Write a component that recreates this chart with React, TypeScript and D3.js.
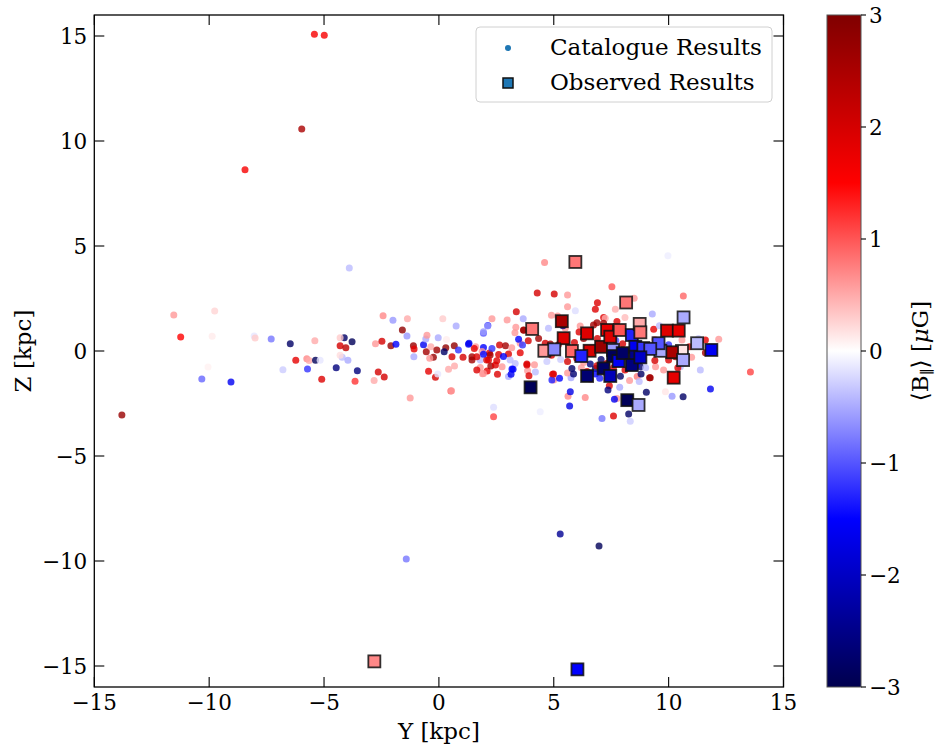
import React from "react";
import * as d3 from "d3";

// ---------- DATA ----------
// catalogue: [Y kpc, Z kpc, <B_par> muG]
const catalogueOutliers: [number, number, number][] = [
  [-13.8, -3.05, 2.7], [-5.42, 15.08, 1.6], [-4.99, 15.03, 1.6], [-5.97, 10.57, 2.5], [-8.44, 8.63, 1.6],
  [-1.42, -9.91, -0.8], [5.28, -8.72, -2.4], [6.97, -9.28, -2.9], [-3.9, 3.95, -0.4], [4.6, 4.21, 0.7],
  [9.97, 4.53, -0.1], [13.56, -1.0, 1.1], [11.82, -1.81, -1.6], [10.64, 2.62, 0.9],
];
const catalogueLeft: [number, number, number][] = [
  [-11.54, 1.72, 0.6], [-9.76, 1.9, 0.25], [-11.24, 0.67, 1.5], [-9.87, 0.7, 0.12], [-8.04, 0.71, -0.15],
  [-8.0, 0.62, 0.3], [-7.3, 0.57, -0.8], [-10.05, -0.76, 0.08], [-10.32, -1.33, -0.9], [-9.05, -1.48, -1.6],
  [-6.47, 0.35, -2.8], [-5.4, 0.49, 0.5], [-6.23, -0.44, 1.8], [-5.75, -0.37, 0.7], [-5.65, -0.45, 0.5],
  [-5.37, -0.44, -2.9], [-5.17, -0.44, -0.15], [-6.79, -0.89, -0.3], [-5.72, -0.86, -1.2], [-5.1, -1.35, 1.9],
  [-4.47, -0.8, -2.6], [-4.12, 0.63, -2.8], [-3.78, 0.44, -2.9], [-4.3, 0.63, 0.3], [-4.3, 0.25, 2.0],
  [-4.05, 0.16, 2.3], [-4.21, -0.3, -0.4], [-3.96, -0.44, -0.5], [-4.3, -0.2, 0.2], [-3.55, -0.94, -2.6],
  [-3.65, -1.44, 1.2], [-2.82, -1.41, 0.5], [-2.64, -1.0, 2.0], [-2.38, -1.24, 2.0], [-2.76, 0.35, 0.6],
  [-2.48, 0.46, 2.0], [-2.09, 0.25, 2.7], [-1.87, 0.32, -1.5], [-2.43, 1.68, 0.7], [-2.0, 1.46, -0.6],
  [-1.37, 1.53, 0.5], [-1.59, 1.0, 2.8], [-1.39, 0.71, -0.6], [-1.11, 0.25, 2.7], [-1.08, 0.1, 1.8],
  [-1.09, -0.27, -0.5], [-0.67, 0.3, -1.6], [-0.57, 0.57, -0.5], [-0.52, 0.75, 0.6], [-0.55, -0.03, 2.6],
  [-0.35, 0.2, 0.5], [-0.09, 0.05, 2.6], [-0.03, 0.63, -0.5], [0.17, 1.54, 0.3], [0.75, 1.19, -0.5],
  [-0.24, -0.3, 2.7], [-0.4, -0.35, 0.6], [-0.45, -0.97, 1.8], [-0.15, -1.25, 2.0], [-0.05, -1.1, -0.15],
  [0.42, -0.87, 0.5], [0.68, -0.72, 0.5], [0.52, -1.91, 1.0], [-1.25, -2.24, 0.6], [0.3, 0.16, 2.8],
  [0.23, -0.03, -2.8], [0.57, -0.27, 2.0], [0.67, 0.25, 2.8], [0.85, 0.05, -1.2], [1.05, -0.3, 2.0],
  [1.29, 0.32, -1.6], [1.44, -0.27, 2.6], [1.6, 0.2, 0.6], [1.8, -0.43, -0.4], [1.9, -1.08, 0.6],
  [2.1, -0.95, 1.8], [2.2, -0.1, 1.8], [1.94, 0.84, -1.0], [2.13, 1.22, -1.3],
];
const catalogueCentre: [number, number, number][] = [
  [4.28, 2.76, 2.0], [5.02, 2.72, 2.0], [3.37, 1.87, 2.0], [3.67, 1.53, -0.5], [2.31, 1.53, 0.6],
  [2.97, 1.48, 0.6], [2.12, 1.19, -0.6], [1.94, 0.92, -0.6], [0.33, 0.55, 0.1], [1.31, 0.37, -1.6],
  [1.54, 0.12, 1.8], [1.94, 0.17, -1.5], [2.31, 0.12, -1.2], [2.64, 0.29, 2.0], [2.9, 0.25, 2.6],
  [3.17, 0.16, 0.6], [3.54, 0.37, 0.6], [3.31, 0.87, 0.6], [3.7, 0.99, 2.6], [3.89, 0.49, 2.0],
  [3.47, 0.56, -1.5], [3.64, 0.29, -1.2], [4.34, 0.6, 2.6], [4.63, 0.37, 2.0], [4.85, 0.33, 2.7],
  [3.54, -0.08, 1.8], [3.03, -0.14, 1.9], [2.6, -0.17, 1.9], [2.23, -0.19, 2.6], [1.88, -0.02, 0.6],
  [1.65, -0.27, 1.9], [1.44, -0.43, 2.6], [2.16, -0.43, 1.9], [2.52, -0.46, 1.9], [2.81, -0.26, -1.5],
  [3.1, -0.43, -0.4], [3.32, -0.59, -0.4], [3.83, -0.62, 1.9], [4.16, -0.65, 0.6], [1.8, -0.78, 0.6],
  [2.26, -0.71, 2.6], [1.65, -0.91, 1.9], [1.94, -1.07, 0.6], [2.55, -1.11, 1.9], [3.03, -1.22, -0.5],
  [3.14, -1.11, -1.6], [3.23, -0.87, -1.5], [3.86, -0.94, 0.6], [3.92, -1.18, 1.9], [4.2, -1.0, -0.4],
  [4.95, -1.11, 1.9], [5.0, -1.38, 0.6], [4.92, -1.38, -1.3], [0.55, -1.89, 0.6], [2.38, -3.13, 1.1],
  [2.38, -2.68, -0.2],
];
const catalogueCore: [number, number, number][] = [
  [5.6, 2.67, 0.6], [7.53, 3.06, 1.0], [8.5, 2.51, 0.6], [6.9, 2.3, 1.9], [6.81, 1.99, 1.9],
  [7.68, 1.99, 0.5], [5.6, 2.11, 0.6], [5.94, 1.92, -0.2], [9.29, 1.76, -0.5], [5.17, 1.67, 0.6],
  [7.17, 1.59, 1.9], [7.24, 1.56, 0.5], [3.35, 1.13, 0.6], [3.68, 1.0, 2.6], [4.77, 1.08, -0.4],
  [5.5, 1.08, 0.6], [6.15, 1.19, 0.6], [6.88, 1.35, 2.6], [7.17, 1.32, 2.6], [7.75, 1.4, 1.9],
  [6.73, 1.24, 2.6], [9.35, 1.03, 1.8], [12.18, 0.56, 0.6], [11.6, 0.52, 1.8], [10.58, 0.52, 0.6],
  [10.7, -0.59, -0.4], [8.63, -1.22, 0.8], [9.17, -1.27, 2.6], [7.87, -1.73, -0.5], [9.03, -1.97, -2.8],
  [7.42, -1.65, 1.9], [7.36, -1.86, -2.6], [7.75, -2.26, 0.6], [7.64, -2.3, -1.6], [8.26, -3.0, -2.8],
  [8.33, -3.34, -0.3], [7.6, -3.1, 1.9], [7.1, -3.21, -0.8], [5.62, -2.15, 0.7], [6.37, -2.22, 0.7],
  [5.72, -1.94, -1.7], [5.69, -2.62, -1.7], [4.41, -2.89, -0.1], [5.25, -1.3, -1.5], [5.75, -1.27, -0.5],
  [5.6, -1.05, 0.6], [4.99, -1.1, 1.9], [5.79, -0.83, -2.8], [6.2, -0.8, 0.6], [6.59, -0.62, -2.6],
  [6.45, -0.98, 1.9], [6.81, -0.83, -2.9], [6.81, -1.1, -1.5], [6.88, -0.7, 1.9], [7.06, -0.4, -2.8],
  [6.08, -0.14, -0.4], [6.4, -0.1, -1.5], [5.86, -1.1, -2.7], [8.77, -0.75, -2.8], [8.6, -0.7, -1.5],
  [9.0, -0.8, -0.4], [9.43, -0.75, 0.6], [10.0, -0.43, 1.9], [10.3, -0.27, 2.6], [10.51, -0.75, -0.4],
  [9.9, 0.05, 2.6], [9.6, -0.1, -0.4], [9.25, 0.12, -1.5], [9.03, -0.02, -2.8], [3.18, -0.86, -1.5],
  [3.83, -0.67, 1.9], [4.7, -0.5, -0.3], [2.75, -0.75, 0.6], [2.46, -0.67, 1.9], [2.08, -0.43, 1.9],
  [1.94, -0.16, -1.5], [9.86, -1.94, 0.15], [10.15, -2.16, -0.6], [10.63, -2.18, -2.8], [9.2, -1.27, 2.6],
  [8.72, -1.45, -0.4], [8.8, -1.1, -2.8], [9.78, -0.91, 0.6], [11.38, -0.91, -0.4], [11.6, -0.08, 2.6],
  [10.2, 0.86, 0.6], [9.6, 1.2, -0.4], [8.1, 1.6, 0.4], [5.4, 1.2, -2.6], [4.9, 1.7, 0.6],
  [6.3, 0.6, 2.7], [5.9, 0.4, 2.0], [6.9, 0.6, 2.0], [7.7, 0.5, -1.0], [8.0, 0.35, 2.0],
  [6.1, 0.9, 1.9], [5.2, 0.3, 2.6], [4.9, -0.2, 1.9], [5.3, -0.4, -0.3], [5.6, -0.5, 2.0],
  [6.0, -0.35, 1.9], [6.3, -0.55, 0.6], [7.3, -0.6, 2.0], [7.6, -0.8, 1.9], [8.1, -0.9, 1.9],
  [8.3, -1.4, 0.6], [7.9, -1.2, -2.8], [7.0, -1.3, -1.3], [6.6, -1.35, 0.5], [9.4, 0.55, 0.6],
  [10.0, 0.3, -1.2], [10.9, 0.2, 2.0], [11.0, -0.3, 0.6], [11.3, 0.6, -0.3], [10.4, -0.8, 1.9],
  [9.4, -0.45, 2.0],
];
// observed: [Y kpc, Z kpc, <B_par> muG]
const observed: [number, number, number][] = [
  [-2.81, -14.78, 0.7], [6.03, -15.16, -1.5], [5.94, 4.24, 0.8], [8.15, 2.31, 0.8], [4.06, 1.05, 0.8],
  [5.35, 1.42, 2.5], [5.43, 0.61, 1.9], [4.59, 0.01, 0.6], [5.02, 0.08, -0.7], [5.79, 0.0, 0.9],
  [6.45, 0.84, 1.9], [6.56, 0.01, 2.0], [7.06, 0.2, 2.7], [7.32, 1.0, 1.8], [7.46, 0.68, 1.9],
  [7.87, 1.0, 1.0], [6.2, -0.24, -1.3], [7.58, 0.05, -0.6], [7.58, -0.24, -2.9], [7.82, -0.48, -1.6],
  [8.0, -0.1, -2.8], [8.4, 0.76, -1.3], [8.55, 0.2, -1.6], [8.55, -0.27, -2.5], [7.17, -0.83, -2.8],
  [6.45, -1.19, -2.7], [7.46, -1.19, -2.1], [8.2, -2.34, -2.9], [8.69, -2.57, -0.5], [3.99, -1.73, -2.9],
  [8.74, 1.29, 0.5], [8.77, 0.89, 0.8], [9.93, 0.97, 1.9], [10.44, 0.97, 1.8], [10.65, 1.6, -0.5],
  [11.24, 0.37, -0.4], [11.86, 0.05, -1.6], [10.58, 0.0, 0.15], [10.15, -0.06, 2.5], [9.64, 0.01, -0.5],
  [9.56, 0.37, -1.0], [10.63, -0.43, -0.5], [10.22, -1.27, 1.8], [8.4, -0.67, -2.6], [8.9, 0.14, -1.2],
  [9.2, 0.1, -1.0], [8.77, -0.3, -2.0],
];
const xTicks = [-15, -10, -5, 0, 5, 10, 15];
const yTicks = [-15, -10, -5, 0, 5, 10, 15];
const cbTicks = [-3, -2, -1, 0, 1, 2, 3];
const legendLabels = ["Catalogue Results", "Observed Results"];

// ---------- LAYOUT ----------
const W = 939, H = 751;
const L = 94.3, R = 783.5, T = 15, B = 687;
const CBL = 827, CBR = 861;
const FONT = "DejaVu Serif";
const FS = 21.5;
const FL = 23;

const fmt = (v: number) => (v < 0 ? "\u2212" + Math.abs(v) : String(v));

export default function App() {
  const x = d3.scaleLinear().domain([-15, 15]).range([L, R]);
  const y = d3.scaleLinear().domain([-16, 16]).range([B, T]);
  const cbY = d3.scaleLinear().domain([-3, 3]).range([B, T]);
  const color = d3
    .scaleLinear<string>()
    .domain([-3, -1.5, 0, 1.5, 3])
    .range(["rgb(0,0,77)", "rgb(0,0,255)", "rgb(255,255,255)", "rgb(255,0,0)", "rgb(128,0,0)"])
    .clamp(true);

  const catalogue = [...catalogueOutliers, ...catalogueLeft, ...catalogueCentre, ...catalogueCore];
  const sq = 12;
  const tickLen = 10;

  const stops = d3.range(0, 1.0001, 0.05);

  return (
    <svg width={W} height={H} style={{ position: "absolute", left: 0, top: 0, background: "#fff" }}
      fontFamily={FONT}>
      <defs>
        <linearGradient id="cb" x1="0" y1="1" x2="0" y2="0">
          {stops.map((s, i) => (
            <stop key={i} offset={s} stopColor={color(-3 + 6 * s)} />
          ))}
        </linearGradient>
        <clipPath id="plot"><rect x={L} y={T} width={R - L} height={B - T} /></clipPath>
      </defs>
      <rect x={0} y={0} width={W} height={H} fill="#fff" />

      <g clipPath="url(#plot)">
        {catalogue.map((d, i) => (
          <circle key={"c" + i} cx={x(d[0])} cy={y(d[1])} r={3.5} fill={color(d[2])} fillOpacity={0.8} />
        ))}
        {observed.map((d, i) => (
          <rect key={"o" + i} x={x(d[0]) - sq / 2} y={y(d[1]) - sq / 2} width={sq} height={sq}
            fill={color(d[2])} stroke="#111" strokeOpacity={0.85} strokeWidth={1.8} />
        ))}
      </g>

      {/* ticks */}
      {xTicks.map((t) => (
        <g key={"xt" + t}>
          <line x1={x(t)} x2={x(t)} y1={B} y2={B - tickLen} stroke="#000" strokeWidth={1.1} />
          <line x1={x(t)} x2={x(t)} y1={T} y2={T + tickLen} stroke="#000" strokeWidth={1.1} />
          <text x={x(t)} y={B + 23} fontSize={FS} textAnchor="middle" fill="#000">{fmt(t)}</text>
        </g>
      ))}
      {yTicks.map((t) => (
        <g key={"yt" + t}>
          <line x1={L} x2={L + tickLen} y1={y(t)} y2={y(t)} stroke="#000" strokeWidth={1.1} />
          <line x1={R} x2={R - tickLen} y1={y(t)} y2={y(t)} stroke="#000" strokeWidth={1.1} />
          <text x={L - 7} y={y(t) + 7.5} fontSize={FS} textAnchor="end" fill="#000">{fmt(t)}</text>
        </g>
      ))}
      <rect x={L} y={T} width={R - L} height={B - T} fill="none" stroke="#000" strokeWidth={1.3} />

      {/* axis labels */}
      <text x={(L + R) / 2} y={739} fontSize={FL} textAnchor="middle">Y [kpc]</text>
      <text transform={`translate(31,${(T + B) / 2}) rotate(-90)`} fontSize={FL} textAnchor="middle">Z [kpc]</text>

      {/* legend */}
      <rect x={476} y={27} width={296} height={75} rx={4} fill="#fff" fillOpacity={0.8} stroke="#d0d0d0" strokeWidth={1} />
      <circle cx={508} cy={48} r={3} fill="#1f77b4" />
      <rect x={503} y={78} width={10} height={10} fill="#1f77b4" stroke="#111" strokeWidth={1.5} />
      <text x={550} y={55} fontSize={FL}>{legendLabels[0]}</text>
      <text x={550} y={90} fontSize={FL}>{legendLabels[1]}</text>

      {/* colorbar */}
      <rect x={CBL} y={T} width={CBR - CBL} height={B - T} fill="url(#cb)" stroke="#555" strokeWidth={1} />
      {cbTicks.map((t) => (
        <g key={"cb" + t}>
          <line x1={CBR} x2={CBR + 5} y1={cbY(t)} y2={cbY(t)} stroke="#000" strokeWidth={1.1} />
          <text x={CBR + 8} y={cbY(t) + 7.5} fontSize={FS}>{fmt(t)}</text>
        </g>
      ))}
      <text transform={`translate(928,${(T + B) / 2}) rotate(-90)`} fontSize={FL} textAnchor="middle">
        {"\u27E8B"}
        <tspan fontSize={15} dy={4}>{"\u2225"}</tspan>
        <tspan dy={-4}>{"\u27E9 ["}</tspan>
        <tspan fontStyle="italic">{"\u03BC"}</tspan>
        {"G]"}
      </text>
    </svg>
  );
}
